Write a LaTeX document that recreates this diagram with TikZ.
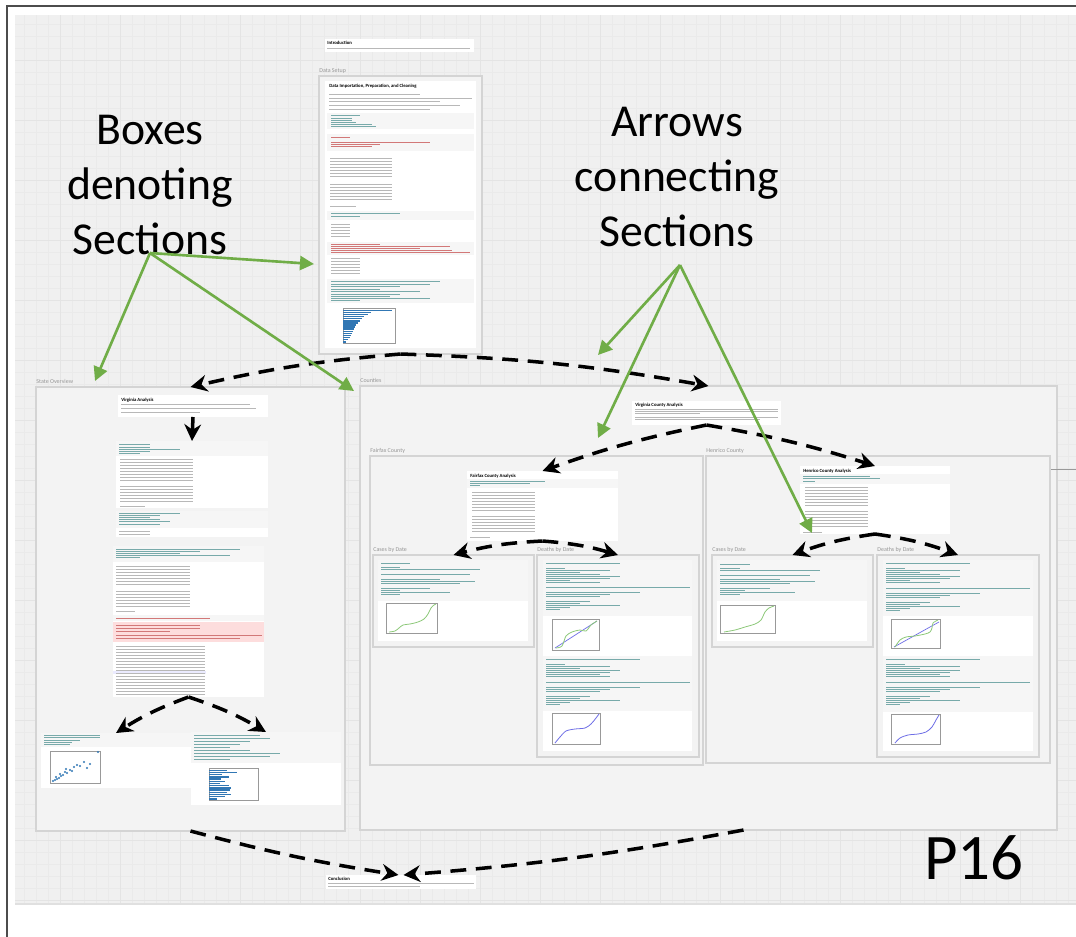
\documentclass[tikz,border=0pt]{standalone}
\usepackage{fontspec}
\setmainfont{Carlito}
\usetikzlibrary{arrows.meta,fit}

\definecolor{canvasgray}{RGB}{240,240,240}
\definecolor{gridgray}{RGB}{234,234,234}
\definecolor{gridmajor}{RGB}{228,228,228}
\definecolor{panelfill}{RGB}{243,243,243}
\definecolor{panelline}{RGB}{212,212,212}
\definecolor{labelgray}{RGB}{150,150,150}
\definecolor{codefill}{RGB}{246,246,246}
\definecolor{errpink}{RGB}{253,221,221}
\definecolor{notegreen}{RGB}{112,173,71}
\definecolor{plotblue}{RGB}{49,119,180}
\definecolor{plotgreen}{RGB}{140,200,120}
\definecolor{plotline}{RGB}{110,110,230}
\definecolor{codeteal}{RGB}{120,170,170}
\definecolor{codered}{RGB}{210,120,120}

\tikzset{
  panel/.style={draw=panelline, fill=panelfill, line width=0.7pt, inner sep=0pt, outer sep=0pt},
  cell/.style={fill=white, inner sep=0pt, outer sep=0pt},
  codeblk/.style={fill=codefill},
  paneltitle/.style={anchor=south west, inner sep=0pt, yshift=1.5pt, text=labelgray, font=\fontsize{3.4}{4}\selectfont},
  celltitle/.style={anchor=north west, inner sep=0pt, font=\fontsize{2.7}{3}\selectfont\bfseries},
  txt/.style={draw=black!28, line width=0.3pt},
  axisbox/.style={draw=black!40, line width=0.3pt, fill=white},
  flow/.style={-{Stealth[length=9.5pt,width=9.5pt]}, line width=2pt, dash pattern=on 9pt off 5.5pt},
  note/.style={-{Triangle[length=8pt,width=8pt]}, draw=notegreen, line width=1.5pt},
  bigtext/.style={align=center, inner sep=0pt, font=\fontsize{26}{31.5}\selectfont},
}

\begin{document}
\begin{tikzpicture}[x=0.02cm, y=-0.02cm]
\useasboundingbox (0,0) rectangle (1076,937);
\fill[white] (0,0) rectangle (1076,937);
\fill[canvasgray] (15,15) rectangle (1076,904);
\draw[gridgray, line width=0.15pt, step=0.24cm] (15,15) grid (1076,904);
\draw[gridmajor, line width=0.3pt, step=1.2cm] (15,15) grid (1076,904);
\draw[black!12, line width=0.6pt] (15,904) -- (1076,904);
\draw[black!70, line width=1.2pt] (7,937) -- (7,6) -- (1076,6);

% introduction and data setup
\node[cell, fit={(325,39) (474,52)}] (intro) {};
\node[celltitle] at (327,41) {Introduction};
\draw[txt] (327,48) -- (470,48);

\node[panel, fit={(319,76) (482,354)}] (setup) {};
\node[paneltitle] at (setup.north west) {Data Setup};
\node[cell, fit={(325,81) (476,348)}] (setupcell) {};
\node[celltitle] at (329,84) {Data Importation, Preparation, and Cleaning};
\foreach \yy/\xe in {94/420, 98/472, 101/440, 105/460, 109/430}
  \draw[txt] (329,\yy) -- (\xe,\yy);
\fill[codefill] (327,113) rectangle (474,129);
\foreach \yy/\xe in {115/360, 118/352, 120/352, 122/356, 124/372, 126/376}
  \draw[txt, codeteal] (331,\yy) -- (\xe,\yy);
\fill[codefill] (327,134) rectangle (474,151);
\foreach \yy/\xe in {137/350, 142/430, 144/380, 146/372}
  \draw[txt, codered] (331,\yy) -- (\xe,\yy);
\foreach \yy in {158,161,...,176,184,187,...,200}
  \draw[txt] (330,\yy) -- (392,\yy);
\draw[txt] (330,206) -- (356,206);
\fill[codefill] (327,211) rectangle (474,220);
\foreach \yy/\xe in {213/400, 216/360}
  \draw[txt, codeteal] (331,\yy) -- (\xe,\yy);
\foreach \yy in {224,227,...,238}
  \draw[txt] (331,\yy) -- (350,\yy);
\fill[codefill] (327,242) rectangle (474,255);
\foreach \yy/\xe in {244/380, 246/450, 248/420, 250/452, 252/470}
  \draw[txt, codered] (331,\yy) -- (\xe,\yy);
\foreach \yy in {258,261,...,275}
  \draw[txt] (331,\yy) -- (360,\yy);
\fill[codefill] (327,279) rectangle (474,303);
\foreach \yy/\xe in {281/440, 284/430, 286/400, 289/380, 291/420, 294/400, 296/390, 298/430, 300/360}
  \draw[txt, codeteal] (331,\yy) -- (\xe,\yy);
\draw[axisbox] (343,308) rectangle (395,343);
\foreach \i/\w in {0/49, 1/28, 2/25, 3/21, 4/19, 5/17, 6/15, 7/13, 8/12, 9/11, 10/10, 11/9, 12/8, 13/7, 14/5, 15/3}
  \fill[plotblue] (343,{309.5+\i*2.1}) rectangle ({343+\w},{311+\i*2.1});

% state overview
\node[panel, fit={(36,387) (345,831)}] (state) {};
\node[paneltitle] at (state.north west) {State Overview};
\node[cell, fit={(118,395) (268,417)}] (vaan) {};
\node[celltitle] at (121,398) {Virginia Analysis};
\foreach \yy/\xe in {404/250, 408/256, 412/200}
  \draw[txt] (121,\yy) -- (\xe,\yy);
\node[cell, fit={(116,441) (268,508)}] (vatab) {};
\fill[codefill] (116,441) rectangle (268,456);
\foreach \yy/\xe in {444/150, 447/150, 449/180, 451/150, 453/140}
  \draw[txt, codeteal] (119,\yy) -- (\xe,\yy);
\foreach \yy in {459,462,...,480,486,489,...,501}
  \draw[txt] (120,\yy) -- (193,\yy);
\draw[txt] (120,506) -- (145,506);
\node[cell, fit={(116,511) (268,537)}] (vacount) {};
\fill[codefill] (116,511) rectangle (268,528);
\foreach \yy/\xe in {513/180, 515/160, 517/150, 519/160, 521/170, 524/160}
  \draw[txt, codeteal] (119,\yy) -- (\xe,\yy);
\foreach \yy in {531,534}
  \draw[txt] (119,\yy) -- (150,\yy);
\node[cell, fit={(113,546) (264,697)}] (vafilter) {};
\fill[codefill] (113,546) rectangle (264,562);
\foreach \yy/\xe in {549/240, 551/200, 553/180, 555/230, 557/140}
  \draw[txt, codeteal] (116,\yy) -- (\xe,\yy);
\foreach \yy in {566,569,...,584,591,594,...,606}
  \draw[txt] (116,\yy) -- (190,\yy);
\draw[txt] (116,611) -- (135,611);
\fill[codefill] (113,615) rectangle (264,621);
\draw[txt, codered] (116,618) -- (210,618);
\fill[errpink] (113,622) rectangle (264,642);
\foreach \yy/\xe in {625/200, 628/200, 631/170, 635/262, 638/240}
  \draw[txt, codered] (116,\yy) -- (\xe,\yy);
\fill[blue!8] (113,671) rectangle (206,674);
\foreach \yy in {646,649,...,694}
  \draw[txt] (116,\yy) -- (205,\yy);
\node[cell, fit={(41,733) (191,788)}] (vascat) {};
\fill[codefill] (41,733) rectangle (191,747);
\foreach \yy/\xe in {735/100, 737/100, 740/80, 742/72, 744/70}
  \draw[txt, codeteal] (44,\yy) -- (\xe,\yy);
\draw[axisbox] (50,751) rectangle (100,783);
\foreach \px/\py in {53/781, 55/780, 57/779, 56/777, 59/778, 61/776, 60/774, 63/775, 65/772, 67/773, 70/770, 66/769, 72/771, 74/767, 77/765, 80/766, 84/762, 87/768, 90/764, 98/752}
  \fill[plotblue] (\px,\py) circle (0.022cm);
\node[cell, fit={(191,732) (341,805)}] (vabar) {};
\fill[codefill] (191,732) rectangle (341,763);
\foreach \yy/\xe in {735/260, 738/270, 741/250, 744/240, 747/230, 750/250, 753/280, 756/270, 759/230}
  \draw[txt, codeteal] (194,\yy) -- (\xe,\yy);
\draw[axisbox] (209,768) rectangle (258,800);
\foreach \i/\w in {0/18, 1/28, 2/13, 3/20, 4/12, 5/16, 6/11, 7/20, 8/22, 9/21, 10/18, 11/22, 12/16, 13/8}
  \fill[plotblue] (209,{769.5+\i*2.2}) rectangle ({209+\w},{770.9+\i*2.2});

% counties
\node[panel, fit={(360,386) (1057,830)}] (counties) {};
\node[paneltitle] at (counties.north west) {Counties};
\node[cell, fit={(632,401) (781,425)}] (vacty) {};
\node[celltitle] at (635,403) {Virginia County Analysis};
\foreach \yy/\xe in {409/778, 411/778, 413/700, 417/778, 419/760}
  \draw[txt] (635,\yy) -- (\xe,\yy);
\draw[black!40, line width=0.4pt] (1017,469) -- (1076,469);

\node[panel, fit={(370,456) (703,765)}] (fairfax) {};
\node[paneltitle] at (fairfax.north west) {Fairfax County};
\node[cell, fit={(467,471) (618,541)}] (ffxan) {};
\node[celltitle] at (470,474) {Fairfax County Analysis};
\fill[codefill] (467,479) rectangle (618,488);
\foreach \yy/\xe in {481/545, 483/530, 485/480}
  \draw[txt, codeteal] (470,\yy) -- (\xe,\yy);
\foreach \yy in {492,495,...,510,516,519,...,531}
  \draw[txt] (472,\yy) -- (535,\yy);
\draw[txt] (470,537) -- (490,537);

\node[panel, fit={(373,555) (534,647)}] (ffxcase) {};
\node[paneltitle] at (ffxcase.north west) {Cases by Date};
\node[cell, fit={(378,560) (528,641)}] (ffxcasecell) {};
\fill[codefill] (378,560) rectangle (528,601);
\foreach \yy/\xe in {563/410, 567/400, 569/480, 574/470, 579/440, 581/475, 583/460, 588/430, 590/400, 592/450, 594/400}
  \draw[txt, codeteal] (381,\yy) -- (\xe,\yy);
\draw[axisbox] (386,603) rectangle (437,633);
\draw[plotgreen, line width=0.45pt] plot[smooth] coordinates {(389,632) (395,631) (399,628) (403,625) (410,624) (418,622) (424,619) (428,614) (431,608) (434,605) (436,604)};
\node[panel, fit={(537,555) (699,757)}] (ffxdeath) {};
\node[paneltitle] at (ffxdeath.north west) {Deaths by Date};
\node[cell, fit={(543,560) (692,751)}] (ffxdeathcell) {};
\fill[codefill] (543,560) rectangle (692,616);
\foreach \yy/\xe in {563/620, 568/565, 570/610, 572/580, 574/600, 576/620, 578/610, 580/570, 582/600, 587/690, 592/640, 594/610, 596/600, 601/590, 603/580, 605/620, 607/570, 609/560}
  \draw[txt, codeteal] (546,\yy) -- (\xe,\yy);
\draw[axisbox] (552,619) rectangle (599,650);
\draw[plotline, line width=0.4pt] (555,648) -- (597,621);
\draw[plotgreen, line width=0.45pt] plot[smooth] coordinates {(556,648) (562,646) (566,636) (572,632) (580,630) (586,631) (591,625) (597,621)};
\fill[codefill] (543,656) rectangle (692,711);
\foreach \yy/\xe in {659/640, 664/565, 666/610, 668/580, 670/620, 672/610, 674/600, 676/610, 682/690, 687/640, 689/610, 691/600, 696/590, 698/580, 700/620, 702/570, 704/560}
  \draw[txt, codeteal] (546,\yy) -- (\xe,\yy);
\draw[axisbox] (552,713) rectangle (600,744);
\draw[plotline, line width=0.45pt] plot[smooth] coordinates {(555,743) (560,737) (566,731) (575,729) (585,728) (591,724) (596,718) (599,714)};

\node[panel, fit={(706,456) (1050,763)}] (henrico) {};
\node[paneltitle] at (henrico.north west) {Henrico County};
\node[cell, fit={(800,466) (950,534)}] (hnran) {};
\node[celltitle] at (803,469) {Henrico County Analysis};
\fill[codefill] (800,474) rectangle (950,484);
\foreach \yy/\xe in {476/870, 478/880, 481/815}
  \draw[txt, codeteal] (803,\yy) -- (\xe,\yy);
\foreach \yy in {487,490,...,505,511,514,...,526}
  \draw[txt] (805,\yy) -- (868,\yy);
\draw[txt] (803,532) -- (822,532);

\node[panel, fit={(712,555) (873,647)}] (hnrcase) {};
\node[paneltitle] at (hnrcase.north west) {Cases by Date};
\node[cell, fit={(717,560) (867,641)}] (hnrcasecell) {};
\fill[codefill] (717,560) rectangle (867,601);
\foreach \yy/\xe in {564/750, 568/740, 570/820, 575/810, 579/780, 581/815, 583/790, 588/770, 590/745, 592/795, 594/740}
  \draw[txt, codeteal] (720,\yy) -- (\xe,\yy);
\draw[axisbox] (720,605) rectangle (775,633);
\draw[plotgreen, line width=0.45pt] plot[smooth] coordinates {(724,632) (735,630) (745,627) (755,624) (761,620) (765,612) (769,608) (774,606)};
\node[panel, fit={(877,555) (1039,757)}] (hnrdeath) {};
\node[paneltitle] at (hnrdeath.north west) {Deaths by Date};
\node[cell, fit={(883,560) (1033,751)}] (hnrdeathcell) {};
\fill[codefill] (883,560) rectangle (1033,616);
\foreach \yy/\xe in {563/970, 568/905, 570/960, 572/920, 574/940, 576/960, 578/950, 580/910, 582/940, 588/1030, 593/980, 595/950, 597/940, 602/930, 604/920, 606/960, 608/910, 610/900}
  \draw[txt, codeteal] (886,\yy) -- (\xe,\yy);
\draw[axisbox] (891,619) rectangle (940,648);
\draw[plotline, line width=0.4pt] (894,647) -- (939,622);
\draw[plotgreen, line width=0.45pt] plot[smooth] coordinates {(895,647) (900,640) (906,637) (915,636) (925,634) (930,632) (932,628) (933,623) (938,620)};
\fill[codefill] (883,656) rectangle (1033,712);
\foreach \yy/\xe in {659/980, 664/905, 666/960, 668/920, 670/960, 672/950, 674/940, 676/950, 682/1030, 687/980, 689/950, 691/940, 696/930, 698/920, 700/960, 702/910, 704/900}
  \draw[txt, codeteal] (886,\yy) -- (\xe,\yy);
\draw[axisbox] (891,714) rectangle (940,744);
\draw[plotline, line width=0.45pt] plot[smooth] coordinates {(895,743) (900,738) (908,735) (918,734) (926,732) (932,727) (936,720) (939,715)};

% conclusion
\node[cell, fit={(326,875) (476,889)}] (concl) {};
\node[celltitle] at (328,877) {Conclusion};
\foreach \yy/\xe in {883/474, 886/420}
  \draw[txt] (328,\yy) -- (\xe,\yy);

% flow between sections
\draw[flow] (setup.south) to[bend right=4] (state.north);
\draw[flow] (setup.south) to[bend left=4] (counties.north);
\draw[flow] (vaan.south) -- (vatab.north);
\draw[flow] (vafilter.south) to[bend right=6] (vascat.north);
\draw[flow] (vafilter.south) to[bend left=6] (vabar.north);
\draw[flow] (vacty.south) to[bend right=4] (ffxan.north);
\draw[flow] (vacty.south) to[bend left=4] (hnran.north);
\draw[flow] (ffxan.south) to[bend right=6] (ffxcase.north);
\draw[flow] (ffxan.south) to[bend left=6] (ffxdeath.north);
\draw[flow] (hnran.south) to[bend right=6] (hnrcase.north);
\draw[flow] (hnran.south) to[bend left=6] (hnrdeath.north);
\draw[flow] (state.south) to[bend right=3] ([xshift=-0.05cm]concl.north);
\draw[flow] ([xshift=0.7cm]counties.south) to[bend left=3] ([xshift=0.05cm]concl.north);

% annotations
\node[bigtext] (boxestext) at (150,185) {Boxes\\denoting\\Sections};
\node[bigtext] (arrowstext) at (677,177) {Arrows\\connecting\\Sections};
\node[inner sep=0pt, font=\fontsize{37}{44}\selectfont] (pagetag) at (974,858) {P16};
\coordinate (boxesfoot) at (150,253);
\coordinate (arrowsfoot) at (680,265);
\coordinate (statetip) at (95,381);
\coordinate (setuptip) at (314,264);
\coordinate (countiestip) at (354,391);
\coordinate (flowtipa) at (598,355);
\coordinate (flowtipb) at (598,438);
\coordinate (flowtipc) at (812,533);
\foreach \tip in {statetip, setuptip, countiestip}
  \draw[note] (boxesfoot) -- (\tip);
\foreach \tip in {flowtipa, flowtipb, flowtipc}
  \draw[note] (arrowsfoot) -- (\tip);
\end{tikzpicture}
\end{document}
